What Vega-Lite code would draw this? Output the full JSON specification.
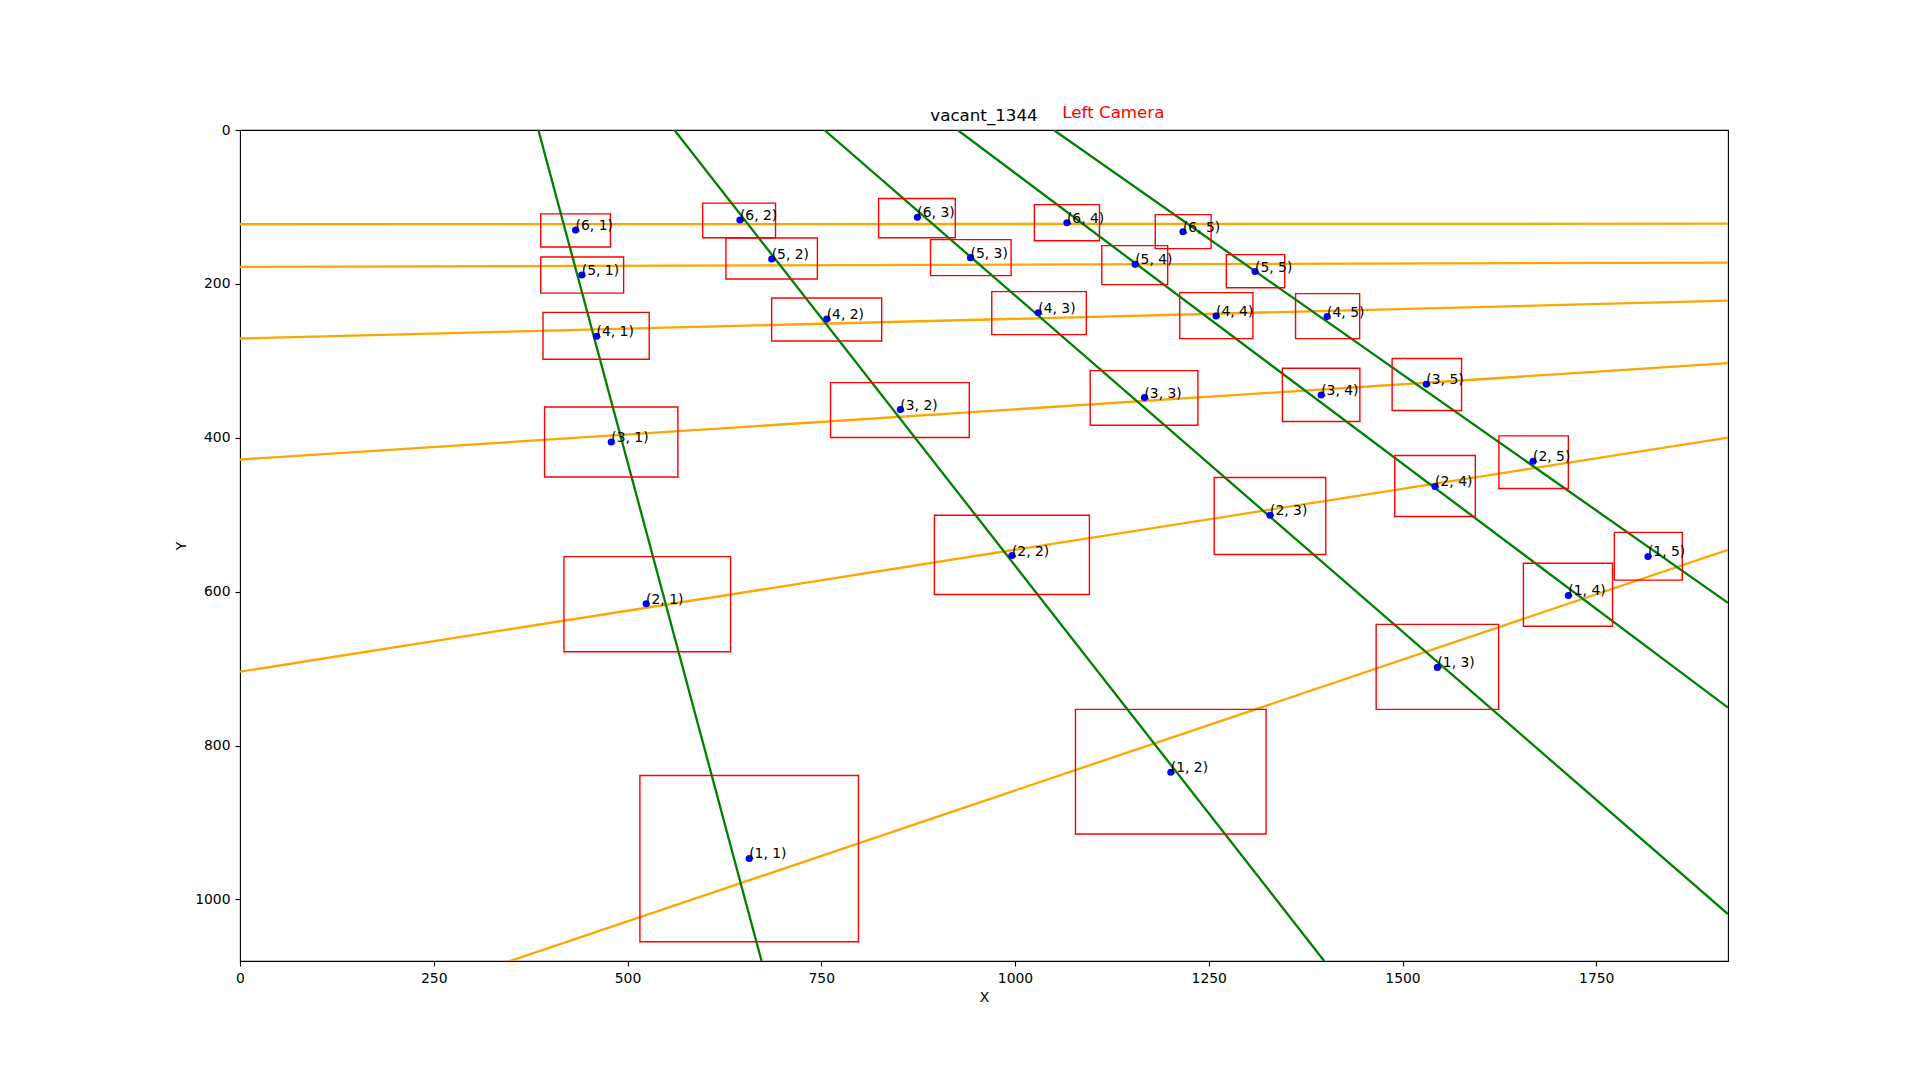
{
  "$schema": "https://vega.github.io/schema/vega-lite/v6.json",
  "autosize": "none",
  "width": 1488,
  "height": 831,
  "padding": {"left": 240, "top": 130, "right": 192, "bottom": 119},
  "background": "white",
  "title": {"text": "vacant_1344", "frame": "group", "fontSize": 16.7, "font": "DejaVu Sans", "fontWeight": "normal", "color": "black", "baseline": "alphabetic", "offset": -33.5},
  "datasets": {
    "detections": [
      {"label": "(6, 1)", "px": 433, "py": 130, "bx1": 388, "bx2": 478, "by1": 109, "by2": 152},
      {"label": "(5, 1)", "px": 441, "py": 188.5, "bx1": 388, "bx2": 495, "by1": 165, "by2": 212},
      {"label": "(4, 1)", "px": 460, "py": 268, "bx1": 391, "bx2": 528, "by1": 237, "by2": 298},
      {"label": "(3, 1)", "px": 479, "py": 405.6, "bx1": 393, "bx2": 565, "by1": 360, "by2": 451},
      {"label": "(2, 1)", "px": 524, "py": 615.6, "bx1": 418, "bx2": 633, "by1": 554.5, "by2": 678},
      {"label": "(1, 1)", "px": 657, "py": 946.7, "bx1": 516, "bx2": 798, "by1": 839, "by2": 1055},
      {"label": "(6, 2)", "px": 645, "py": 117, "bx1": 597, "bx2": 691, "by1": 95, "by2": 140},
      {"label": "(5, 2)", "px": 686, "py": 167.7, "bx1": 627, "bx2": 745, "by1": 140.4, "by2": 193.7},
      {"label": "(4, 2)", "px": 757, "py": 245.7, "bx1": 686, "bx2": 828, "by1": 218.4, "by2": 274.3},
      {"label": "(3, 2)", "px": 852, "py": 363.3, "bx1": 762, "bx2": 941, "by1": 328.3, "by2": 399.7},
      {"label": "(2, 2)", "px": 996, "py": 553, "bx1": 896, "bx2": 1096, "by1": 500.6, "by2": 603.6},
      {"label": "(1, 2)", "px": 1201, "py": 834.8, "bx1": 1078, "bx2": 1324, "by1": 753, "by2": 915},
      {"label": "(6, 3)", "px": 874, "py": 113.5, "bx1": 824, "bx2": 923, "by1": 89, "by2": 140},
      {"label": "(5, 3)", "px": 942.6, "py": 165.9, "bx1": 891, "bx2": 995, "by1": 142.5, "by2": 189.3},
      {"label": "(4, 3)", "px": 1030, "py": 237.4, "bx1": 970, "bx2": 1092, "by1": 210, "by2": 266},
      {"label": "(3, 3)", "px": 1167, "py": 347.7, "bx1": 1097, "bx2": 1236, "by1": 312.7, "by2": 383.7},
      {"label": "(2, 3)", "px": 1329, "py": 500.6, "bx1": 1257, "bx2": 1401, "by1": 451.6, "by2": 551.6},
      {"label": "(1, 3)", "px": 1545, "py": 698.4, "bx1": 1466, "bx2": 1624, "by1": 642.5, "by2": 753},
      {"label": "(6, 4)", "px": 1067, "py": 120.5, "bx1": 1025, "bx2": 1109, "by1": 97, "by2": 144},
      {"label": "(5, 4)", "px": 1155, "py": 174.6, "bx1": 1112, "bx2": 1197, "by1": 150.3, "by2": 201},
      {"label": "(4, 4)", "px": 1259.4, "py": 241.7, "bx1": 1212.5, "bx2": 1307, "by1": 211.4, "by2": 271.1},
      {"label": "(3, 4)", "px": 1395, "py": 344.3, "bx1": 1345, "bx2": 1445, "by1": 309.6, "by2": 378.9},
      {"label": "(2, 4)", "px": 1542, "py": 463.3, "bx1": 1490, "bx2": 1594, "by1": 423, "by2": 502.3},
      {"label": "(1, 4)", "px": 1714, "py": 604.9, "bx1": 1656, "bx2": 1771, "by1": 563, "by2": 645},
      {"label": "(6, 5)", "px": 1216.7, "py": 132.2, "bx1": 1181, "bx2": 1253, "by1": 110, "by2": 154.2},
      {"label": "(5, 5)", "px": 1309.7, "py": 184, "bx1": 1272.7, "bx2": 1348, "by1": 162, "by2": 205},
      {"label": "(4, 5)", "px": 1402.7, "py": 242.5, "bx1": 1362, "bx2": 1444.7, "by1": 212.7, "by2": 271.1},
      {"label": "(3, 5)", "px": 1530.7, "py": 330.4, "bx1": 1486.6, "bx2": 1576.2, "by1": 297, "by2": 364.6},
      {"label": "(2, 5)", "px": 1668.4, "py": 430.4, "bx1": 1624.4, "bx2": 1714, "by1": 397.5, "by2": 466},
      {"label": "(1, 5)", "px": 1816.7, "py": 554.2, "bx1": 1773.3, "bx2": 1861, "by1": 523, "by2": 585}
    ],
    "lines": [
      {"line": "r6", "kind": "row", "x": 0, "y": 122.5},
      {"line": "r6", "kind": "row", "x": 1920, "y": 121.8},
      {"line": "r5", "kind": "row", "x": 0, "y": 178},
      {"line": "r5", "kind": "row", "x": 1920, "y": 172.3},
      {"line": "r4", "kind": "row", "x": 0, "y": 271},
      {"line": "r4", "kind": "row", "x": 1920, "y": 221.8},
      {"line": "r3", "kind": "row", "x": 0, "y": 428.3},
      {"line": "r3", "kind": "row", "x": 1920, "y": 303},
      {"line": "r2", "kind": "row", "x": 0, "y": 704},
      {"line": "r2", "kind": "row", "x": 1920, "y": 399.7},
      {"line": "r1", "kind": "row", "x": 0, "y": 1198.5},
      {"line": "r1", "kind": "row", "x": 1920, "y": 545.5},
      {"line": "c1", "kind": "col", "x": 385, "y": 0},
      {"line": "c1", "kind": "col", "x": 673, "y": 1080},
      {"line": "c2", "kind": "col", "x": 560.5, "y": 0},
      {"line": "c2", "kind": "col", "x": 1399, "y": 1080},
      {"line": "c3", "kind": "col", "x": 754, "y": 0},
      {"line": "c3", "kind": "col", "x": 1920, "y": 1019},
      {"line": "c4", "kind": "col", "x": 926, "y": 0},
      {"line": "c4", "kind": "col", "x": 1920, "y": 750.8},
      {"line": "c5", "kind": "col", "x": 1050, "y": 0},
      {"line": "c5", "kind": "col", "x": 1920, "y": 614.5}
    ],
    "notes": [
      {"note": "Left Camera", "x": 1061, "y": -16}
    ]
  },
  "config": {
    "font": "DejaVu Sans",
    "view": {"stroke": "black", "strokeWidth": 1.1},
    "axis": {
      "grid": false,
      "domain": false,
      "tickColor": "black",
      "tickWidth": 1.1,
      "tickSize": 5,
      "labelPadding": 5,
      "labelFlush": false,
      "labelColor": "black",
      "labelFontSize": 13.9,
      "labelFont": "DejaVu Sans",
      "titleColor": "black",
      "titleFontSize": 13.9,
      "titleFont": "DejaVu Sans",
      "titleFontWeight": "normal",
      "format": "d"
    }
  },
  "layer": [
    {
      "data": {"name": "lines"},
      "mark": {"type": "line", "clip": true, "strokeWidth": 2.3},
      "encoding": {
        "x": {"field": "x", "type": "quantitative", "scale": {"domain": [0, 1920], "nice": false, "zero": false}, "axis": {"title": "X", "values": [0, 250, 500, 750, 1000, 1250, 1500, 1750], "titlePadding": 6}},
        "y": {"field": "y", "type": "quantitative", "scale": {"domain": [0, 1080], "nice": false, "zero": false, "reverse": true}, "axis": {"title": "Y", "values": [0, 200, 400, 600, 800, 1000], "titlePadding": 6}},
        "detail": {"field": "line", "type": "nominal"},
        "color": {"field": "kind", "type": "nominal", "scale": {"domain": ["row", "col"], "range": ["#ffa500", "#008000"]}, "legend": null}
      }
    },
    {
      "data": {"name": "detections"},
      "mark": {"type": "rect", "fill": null, "fillOpacity": 0, "stroke": "#ff0000", "strokeWidth": 1.4},
      "encoding": {
        "x": {"field": "bx1", "type": "quantitative"},
        "x2": {"field": "bx2"},
        "y": {"field": "by1", "type": "quantitative"},
        "y2": {"field": "by2"}
      }
    },
    {
      "data": {"name": "detections"},
      "mark": {"type": "point", "filled": true, "color": "#0000ff", "opacity": 1, "size": 50},
      "encoding": {
        "x": {"field": "px", "type": "quantitative"},
        "y": {"field": "py", "type": "quantitative"}
      }
    },
    {
      "data": {"name": "detections"},
      "mark": {"type": "text", "align": "left", "baseline": "alphabetic", "fontSize": 13.9, "font": "DejaVu Sans", "color": "black"},
      "encoding": {
        "x": {"field": "px", "type": "quantitative"},
        "y": {"field": "py", "type": "quantitative"},
        "text": {"field": "label", "type": "nominal"}
      }
    },
    {
      "data": {"name": "notes"},
      "mark": {"type": "text", "align": "left", "baseline": "alphabetic", "fontSize": 16.7, "font": "DejaVu Sans", "color": "#ff0000"},
      "encoding": {
        "x": {"field": "x", "type": "quantitative"},
        "y": {"field": "y", "type": "quantitative"},
        "text": {"field": "note", "type": "nominal"}
      }
    }
  ]
}
